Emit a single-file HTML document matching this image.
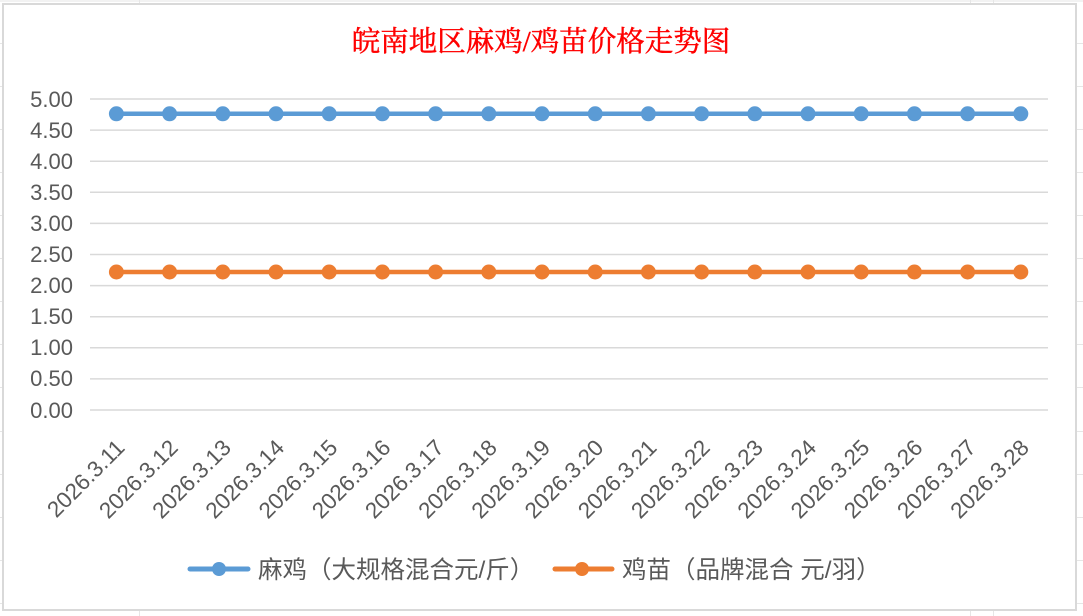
<!DOCTYPE html>
<html>
<head>
<meta charset="utf-8">
<style>
  html,body{margin:0;padding:0;background:#fff;}
  svg{display:block;}
  .ylab{font-family:"Liberation Sans","Noto Sans CJK SC",sans-serif;font-size:22px;fill:#595959;}
  .xlab{font-family:"Liberation Sans","Noto Sans CJK SC",sans-serif;font-size:22.5px;fill:#595959;}
  .leg{font-family:"Liberation Sans","Noto Sans CJK SC",sans-serif;font-size:24.5px;fill:#595959;}
  .title{font-family:"Liberation Serif","Noto Serif CJK SC",serif;font-size:28.5px;fill:#ff0000;stroke:#ff0000;stroke-width:0.45px;}
</style>
</head>
<body>
<svg width="1083" height="616" viewBox="0 0 1083 616" xmlns="http://www.w3.org/2000/svg">
  <!-- outside excel cell grid -->
  <g stroke="#e6e6e6" stroke-width="1">
    <line x1="0" y1="1" x2="1083" y2="1"/>
    <line x1="139.5" y1="0" x2="139.5" y2="4"/>
    <line x1="139.5" y1="611" x2="139.5" y2="616"/>
    <line x1="970.5" y1="0" x2="970.5" y2="4"/>
    <line x1="993.5" y1="0" x2="993.5" y2="4"/>
    <line x1="970.5" y1="611" x2="970.5" y2="616"/>
    <line x1="993.5" y1="611" x2="993.5" y2="616"/>
    <line x1="0" y1="43.5" x2="2" y2="43.5"/>
    <line x1="0" y1="86.5" x2="2" y2="86.5"/>
    <line x1="0" y1="129.5" x2="2" y2="129.5"/>
    <line x1="0" y1="172.5" x2="2" y2="172.5"/>
    <line x1="0" y1="215.5" x2="2" y2="215.5"/>
    <line x1="0" y1="258.5" x2="2" y2="258.5"/>
    <line x1="0" y1="301.5" x2="2" y2="301.5"/>
    <line x1="0" y1="344.5" x2="2" y2="344.5"/>
    <line x1="0" y1="387.5" x2="2" y2="387.5"/>
    <line x1="0" y1="431.5" x2="2" y2="431.5"/>
    <line x1="0" y1="474.5" x2="2" y2="474.5"/>
    <line x1="0" y1="517.5" x2="2" y2="517.5"/>
    <line x1="0" y1="560.5" x2="2" y2="560.5"/>
    <line x1="0" y1="603.5" x2="2" y2="603.5"/>
    <line x1="1077" y1="43.5" x2="1083" y2="43.5"/>
    <line x1="1077" y1="86.5" x2="1083" y2="86.5"/>
    <line x1="1077" y1="129.5" x2="1083" y2="129.5"/>
    <line x1="1077" y1="172.5" x2="1083" y2="172.5"/>
    <line x1="1077" y1="215.5" x2="1083" y2="215.5"/>
    <line x1="1077" y1="258.5" x2="1083" y2="258.5"/>
    <line x1="1077" y1="301.5" x2="1083" y2="301.5"/>
    <line x1="1077" y1="344.5" x2="1083" y2="344.5"/>
    <line x1="1077" y1="387.5" x2="1083" y2="387.5"/>
    <line x1="1077" y1="431.5" x2="1083" y2="431.5"/>
    <line x1="1077" y1="474.5" x2="1083" y2="474.5"/>
    <line x1="1077" y1="517.5" x2="1083" y2="517.5"/>
    <line x1="1077" y1="560.5" x2="1083" y2="560.5"/>
    <line x1="1077" y1="603.5" x2="1083" y2="603.5"/>
  </g>
  <!-- chart frame -->
  <rect x="3" y="4" width="1073" height="606" fill="#fff" stroke="#d9d9d9" stroke-width="2"/>

  <!-- title -->
  <text class="title" x="541" y="51" text-anchor="middle">皖南地区麻鸡/鸡苗价格走势图</text>

  <!-- gridlines -->
  <g stroke="#d9d9d9" stroke-width="1.5">
    <line x1="90" y1="99" x2="1048" y2="99"/>
    <line x1="90" y1="130.1" x2="1048" y2="130.1"/>
    <line x1="90" y1="161.2" x2="1048" y2="161.2"/>
    <line x1="90" y1="192.3" x2="1048" y2="192.3"/>
    <line x1="90" y1="223.4" x2="1048" y2="223.4"/>
    <line x1="90" y1="254.5" x2="1048" y2="254.5"/>
    <line x1="90" y1="285.6" x2="1048" y2="285.6"/>
    <line x1="90" y1="316.7" x2="1048" y2="316.7"/>
    <line x1="90" y1="347.8" x2="1048" y2="347.8"/>
    <line x1="90" y1="378.9" x2="1048" y2="378.9"/>
    <line x1="90" y1="410" x2="1048" y2="410"/>
  </g>

  <!-- y labels -->
  <g class="ylab" text-anchor="end">
    <text x="73" y="107">5.00</text>
    <text x="73" y="138">4.50</text>
    <text x="73" y="169">4.00</text>
    <text x="73" y="200">3.50</text>
    <text x="73" y="231">3.00</text>
    <text x="73" y="262">2.50</text>
    <text x="73" y="293">2.00</text>
    <text x="73" y="324">1.50</text>
    <text x="73" y="355">1.00</text>
    <text x="73" y="386">0.50</text>
    <text x="73" y="418">0.00</text>
  </g>

  <!-- x labels -->
  <g class="xlab" text-anchor="end">
    <text transform="translate(126,449) rotate(-45)">2026.3.11</text>
    <text transform="translate(179.2,449) rotate(-45)">2026.3.12</text>
    <text transform="translate(232.4,449) rotate(-45)">2026.3.13</text>
    <text transform="translate(285.6,449) rotate(-45)">2026.3.14</text>
    <text transform="translate(338.8,449) rotate(-45)">2026.3.15</text>
    <text transform="translate(392,449) rotate(-45)">2026.3.16</text>
    <text transform="translate(445.2,449) rotate(-45)">2026.3.17</text>
    <text transform="translate(498.4,449) rotate(-45)">2026.3.18</text>
    <text transform="translate(551.6,449) rotate(-45)">2026.3.19</text>
    <text transform="translate(604.8,449) rotate(-45)">2026.3.20</text>
    <text transform="translate(658,449) rotate(-45)">2026.3.21</text>
    <text transform="translate(711.2,449) rotate(-45)">2026.3.22</text>
    <text transform="translate(764.4,449) rotate(-45)">2026.3.23</text>
    <text transform="translate(817.6,449) rotate(-45)">2026.3.24</text>
    <text transform="translate(870.8,449) rotate(-45)">2026.3.25</text>
    <text transform="translate(924,449) rotate(-45)">2026.3.26</text>
    <text transform="translate(977.2,449) rotate(-45)">2026.3.27</text>
    <text transform="translate(1030.4,449) rotate(-45)">2026.3.28</text>
  </g>

  <!-- blue series -->
  <line x1="116.4" y1="113.8" x2="1021" y2="113.8" stroke="#5b9bd5" stroke-width="4.5"/>
  <g fill="#5b9bd5">
    <circle cx="116.4" cy="113.8" r="7.5"/>
    <circle cx="169.6" cy="113.8" r="7.5"/>
    <circle cx="222.8" cy="113.8" r="7.5"/>
    <circle cx="276" cy="113.8" r="7.5"/>
    <circle cx="329.2" cy="113.8" r="7.5"/>
    <circle cx="382.4" cy="113.8" r="7.5"/>
    <circle cx="435.6" cy="113.8" r="7.5"/>
    <circle cx="488.8" cy="113.8" r="7.5"/>
    <circle cx="542" cy="113.8" r="7.5"/>
    <circle cx="595.2" cy="113.8" r="7.5"/>
    <circle cx="648.4" cy="113.8" r="7.5"/>
    <circle cx="701.6" cy="113.8" r="7.5"/>
    <circle cx="754.8" cy="113.8" r="7.5"/>
    <circle cx="808" cy="113.8" r="7.5"/>
    <circle cx="861.2" cy="113.8" r="7.5"/>
    <circle cx="914.4" cy="113.8" r="7.5"/>
    <circle cx="967.6" cy="113.8" r="7.5"/>
    <circle cx="1020.8" cy="113.8" r="7.5"/>
  </g>

  <!-- orange series -->
  <line x1="116.4" y1="272" x2="1021" y2="272" stroke="#ed7d31" stroke-width="4.5"/>
  <g fill="#ed7d31">
    <circle cx="116.4" cy="272" r="7.5"/>
    <circle cx="169.6" cy="272" r="7.5"/>
    <circle cx="222.8" cy="272" r="7.5"/>
    <circle cx="276" cy="272" r="7.5"/>
    <circle cx="329.2" cy="272" r="7.5"/>
    <circle cx="382.4" cy="272" r="7.5"/>
    <circle cx="435.6" cy="272" r="7.5"/>
    <circle cx="488.8" cy="272" r="7.5"/>
    <circle cx="542" cy="272" r="7.5"/>
    <circle cx="595.2" cy="272" r="7.5"/>
    <circle cx="648.4" cy="272" r="7.5"/>
    <circle cx="701.6" cy="272" r="7.5"/>
    <circle cx="754.8" cy="272" r="7.5"/>
    <circle cx="808" cy="272" r="7.5"/>
    <circle cx="861.2" cy="272" r="7.5"/>
    <circle cx="914.4" cy="272" r="7.5"/>
    <circle cx="967.6" cy="272" r="7.5"/>
    <circle cx="1020.8" cy="272" r="7.5"/>
  </g>

  <!-- legend -->
  <line x1="190" y1="569" x2="248" y2="569" stroke="#5b9bd5" stroke-width="5" stroke-linecap="round"/>
  <circle cx="219" cy="569" r="7" fill="#5b9bd5"/>
  <text class="leg" x="258" y="578">麻鸡（大规格混合元/斤）</text>

  <line x1="555" y1="569" x2="612" y2="569" stroke="#ed7d31" stroke-width="5" stroke-linecap="round"/>
  <circle cx="582" cy="569" r="7" fill="#ed7d31"/>
  <text class="leg" x="622" y="578">鸡苗（品牌混合 元/羽）</text>
</svg>
</body>
</html>
